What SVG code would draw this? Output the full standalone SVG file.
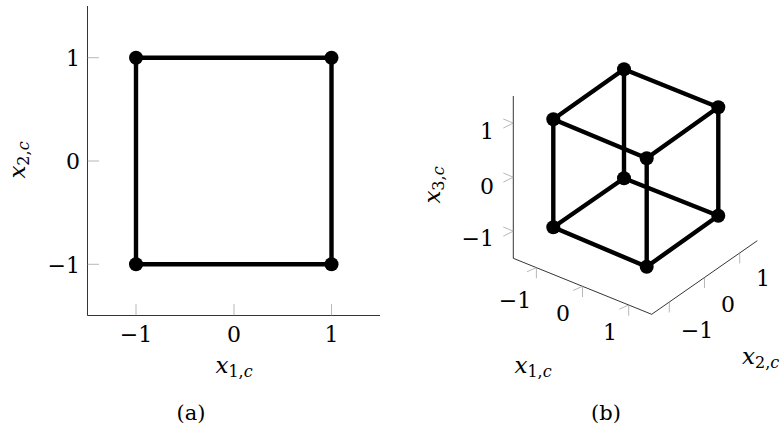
<svg xmlns="http://www.w3.org/2000/svg" width="783" height="427" viewBox="0 0 783 427" font-family="'DejaVu Serif', serif">
<style>
.ax{stroke:#000;stroke-width:0.8;fill:none}
.tk{stroke:#9a9a9a;stroke-width:0.7;fill:none}
.ed{stroke:#000;stroke-width:4.4;stroke-linecap:round;fill:none}
.pt{fill:#000}
.num{font-size:22px;font-family:'DejaVu Serif',serif}
.lab{font-size:23px;font-family:'DejaVu Serif',serif}
.sub{font-size:16px}
.cap{font-size:21px;font-family:'DejaVu Serif',serif}
</style>
<rect width="783" height="427" fill="#fff"/>

<!-- Panel (a) axes -->
<g id="axes-a">
<path class="ax" d="M87.5,6 V315.5 H380"/>
<path class="tk" d="M87.5,57.7 H99 M87.5,161 H99 M87.5,264.3 H99"/>
<path class="tk" d="M136,315.5 V304 M234,315.5 V304 M331.5,315.5 V304"/>
<text class="num" x="80" y="65.5" text-anchor="end">1</text>
<text class="num" x="80" y="169" text-anchor="end">0</text>
<text class="num" x="80" y="272.5" text-anchor="end">−1</text>
<text class="num" x="136" y="342" text-anchor="middle">−1</text>
<text class="num" x="234" y="342" text-anchor="middle">0</text>
<text class="num" x="331.5" y="342" text-anchor="middle">1</text>
<text class="lab" x="234" y="373" text-anchor="middle"><tspan font-style="italic">x</tspan><tspan class="sub" dy="4">1,<tspan font-style="italic">c</tspan></tspan></text>
<text class="lab" transform="translate(25,160) rotate(-90)" text-anchor="middle"><tspan font-style="italic">x</tspan><tspan class="sub" dy="4">2,<tspan font-style="italic">c</tspan></tspan></text>
<text class="cap" x="191" y="420" text-anchor="middle">(a)</text>
</g>

<!-- Panel (b) axes -->
<g id="axes-b">
<path class="ax" d="M513.3,96 V258.3 L651.7,314.3 L757.3,240.7"/>
<path class="tk" d="M503.3,119 L513.3,123.1 L503.3,128.1 M503.3,173 L513.3,177.2 L503.3,182.2 M503.3,227 L513.3,231.2 L503.3,236.2"/>
<path class="tk" d="M536.4,278.3 V267.6 L527,271.8 M582.5,297 V286.3 L573.1,290.5 M628.7,315.7 V305 L619.3,309.2"/>
<path class="tk" d="M669.3,302 V312.5 M704.5,277.5 V288 M739.7,252.9 V263.4"/>
<text class="num" x="494" y="138.5" text-anchor="end">1</text>
<text class="num" x="494" y="193.5" text-anchor="end">0</text>
<text class="num" x="494" y="245.5" text-anchor="end">−1</text>
<text class="num" x="515" y="308" text-anchor="middle">−1</text>
<text class="num" x="563" y="320.5" text-anchor="middle">0</text>
<text class="num" x="610" y="339.5" text-anchor="middle">1</text>
<text class="num" x="697" y="337.5" text-anchor="middle">−1</text>
<text class="num" x="728" y="311.5" text-anchor="middle">0</text>
<text class="num" x="763" y="285.5" text-anchor="middle">1</text>
<text class="lab" x="533" y="373" text-anchor="middle"><tspan font-style="italic">x</tspan><tspan class="sub" dy="4">1,<tspan font-style="italic">c</tspan></tspan></text>
<text class="lab" x="742" y="364"><tspan font-style="italic">x</tspan><tspan class="sub" dy="4">2,<tspan font-style="italic">c</tspan></tspan></text>
<text class="lab" transform="translate(440,185) rotate(-90)" text-anchor="middle"><tspan font-style="italic">x</tspan><tspan class="sub" dy="4">3,<tspan font-style="italic">c</tspan></tspan></text>
<text class="cap" x="606" y="420" text-anchor="middle">(b)</text>
</g>

<!-- Connectors -->
<g id="connectors">
<path class="ed" d="M136,57.7 H331.5 V264.3 H136 Z"/>
<path class="ed" d="M624,69.3 L553.3,119.3 M624,69.3 L718.3,107.3 M553.3,119.3 L646.7,158.3 M718.3,107.3 L646.7,158.3"/>
<path class="ed" d="M553.3,119.3 V227.3 M624,69.3 V178.3 M718.3,107.3 V215.7 M646.7,158.3 V266.7"/>
<path class="ed" d="M624,178.3 L553.3,227.3 M624,178.3 L718.3,215.7 M553.3,227.3 L646.7,266.7 M718.3,215.7 L646.7,266.7"/>
</g>

<!-- Nodes panel (a) -->
<g id="a-v1"><circle class="pt" cx="136" cy="57.7" r="7"/></g>
<g id="a-v2"><circle class="pt" cx="331.5" cy="57.7" r="7"/></g>
<g id="a-v3"><circle class="pt" cx="331.5" cy="264.3" r="7"/></g>
<g id="a-v4"><circle class="pt" cx="136" cy="264.3" r="7"/></g>

<!-- Nodes panel (b) -->
<g id="b-top-back"><circle class="pt" cx="624" cy="69.3" r="7"/></g>
<g id="b-top-left"><circle class="pt" cx="553.3" cy="119.3" r="7"/></g>
<g id="b-top-right"><circle class="pt" cx="718.3" cy="107.3" r="7"/></g>
<g id="b-top-front"><circle class="pt" cx="646.7" cy="158.3" r="7"/></g>
<g id="b-bot-back"><circle class="pt" cx="624" cy="178.3" r="7"/></g>
<g id="b-bot-left"><circle class="pt" cx="553.3" cy="227.3" r="7"/></g>
<g id="b-bot-right"><circle class="pt" cx="718.3" cy="215.7" r="7"/></g>
<g id="b-bot-front"><circle class="pt" cx="646.7" cy="266.7" r="7"/></g>
</svg>
